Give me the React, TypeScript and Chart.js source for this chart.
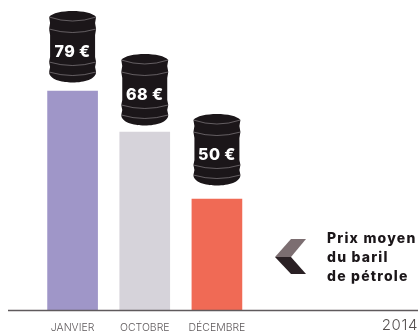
import React, { useEffect, useRef } from "react";
import { Chart, registerables } from "chart.js";

Chart.register(...registerables);

const months = ["JANVIER", "OCTOBRE", "DÉCEMBRE"];
const prices = [79, 68, 50];
const barColors = ["#9f96c8", "#d6d3da", "#f06a55"];
const captionLines = ["Prix moyen", "du baril", "de pétrole"];
const yearLabel = "2014";

const FONT = "Inter, 'Open Sans', sans-serif";
const BARREL_W = 47;
const BARREL_H = 72;
const barrelGaps = [8, 6, 13];

// Oil drum: dark body, slightly bulged sides, thin highlights for the hoops and rim.
function drawBarrel(ctx: CanvasRenderingContext2D, cx: number, top: number) {
  const hw = BARREL_W / 2;
  ctx.save();
  ctx.fillStyle = "#1b1619";
  ctx.beginPath();
  ctx.moveTo(cx - hw, top + 6);
  ctx.bezierCurveTo(cx - hw + 6, top - 2, cx + hw - 6, top - 2, cx + hw, top + 6);
  ctx.lineTo(cx + hw - 1, top + 12);
  ctx.lineTo(cx + hw, top + 18);
  ctx.lineTo(cx + hw - 1, top + 24);
  ctx.lineTo(cx + hw - 1, top + 46);
  ctx.lineTo(cx + hw, top + 51);
  ctx.lineTo(cx + hw - 1, top + 56);
  ctx.lineTo(cx + hw, top + 61);
  ctx.bezierCurveTo(cx + hw, top + 75, cx - hw, top + 75, cx - hw, top + 61);
  ctx.lineTo(cx - hw + 1, top + 56);
  ctx.lineTo(cx - hw, top + 51);
  ctx.lineTo(cx - hw + 1, top + 46);
  ctx.lineTo(cx - hw + 1, top + 24);
  ctx.lineTo(cx - hw, top + 18);
  ctx.lineTo(cx - hw + 1, top + 12);
  ctx.closePath();
  ctx.fill();

  ctx.strokeStyle = "rgba(175,170,173,0.7)";
  ctx.lineWidth = 0.7;
  const arc = (y: number, sag: number) => {
    ctx.beginPath();
    ctx.moveTo(cx - hw, y);
    ctx.quadraticCurveTo(cx, y + sag, cx + hw, y);
    ctx.stroke();
  };
  arc(top + 6, 8);
  arc(top + 18, 7);
  arc(top + 51, 7);
  arc(top + 61, 7);

  ctx.restore();
}

const overlay = {
  id: "barrelOverlay",
  afterDraw(chart: Chart) {
    const ctx = chart.ctx as any;
    const meta = chart.getDatasetMeta(0);
    const yScale = chart.scales.y;

    // Baseline running under the whole figure.
    ctx.save();
    ctx.strokeStyle = "#5f5a5c";
    ctx.lineWidth = 1.5;
    ctx.beginPath();
    ctx.moveTo(8, yScale.bottom + 0.5);
    ctx.lineTo(chart.width - 1, yScale.bottom + 0.5);
    ctx.stroke();

    meta.data.forEach((bar: any, i: number) => {
      const top = bar.y - barrelGaps[i] - BARREL_H;
      drawBarrel(ctx, bar.x, top);
      ctx.fillStyle = "#ffffff";
      ctx.font = `800 16px ${FONT}`;
      ctx.letterSpacing = "0.4px";
      ctx.textAlign = "center";
      ctx.textBaseline = "middle";
      ctx.fillText(`${prices[i]} €`, bar.x, top + 41);
    });

    // Caption chevron, two-tone.
    ctx.fillStyle = "#7c6e71";
    ctx.beginPath();
    ctx.moveTo(291, 239);
    ctx.lineTo(306, 239);
    ctx.lineTo(291, 257);
    ctx.lineTo(275, 257);
    ctx.closePath();
    ctx.fill();
    ctx.fillStyle = "#2a2024";
    ctx.beginPath();
    ctx.moveTo(275, 257);
    ctx.lineTo(291, 257);
    ctx.lineTo(306, 274);
    ctx.lineTo(291, 274);
    ctx.closePath();
    ctx.fill();

    ctx.fillStyle = "#1b1619";
    ctx.font = `800 14px ${FONT}`;
    ctx.letterSpacing = "1.2px";
    ctx.textAlign = "left";
    ctx.textBaseline = "alphabetic";
    captionLines.forEach((line, i) => ctx.fillText(line, 327, 243 + i * 19));

    ctx.fillStyle = "#55504f";
    ctx.font = `300 15px ${FONT}`;
    ctx.letterSpacing = "0.6px";
    ctx.textAlign = "right";
    ctx.fillText(yearLabel, 418, 330);
    ctx.restore();
  },
};

export default function App() {
  const ref = useRef<HTMLCanvasElement>(null);

  useEffect(() => {
    const chart = new Chart(ref.current!, {
      type: "bar",
      data: {
        labels: months,
        datasets: [
          {
            data: prices,
            backgroundColor: barColors,
            borderWidth: 0,
            barThickness: 50,
          },
        ],
      },
      options: {
        animation: false,
        responsive: false,
        layout: { padding: { left: 36.5, right: 166, top: 0, bottom: 0 } },
        plugins: { legend: { display: false }, tooltip: { enabled: false } },
        scales: {
          x: {
            grid: { display: false, drawTicks: false },
            border: { display: false },
            afterFit: (scale: any) => {
              scale.height = 22;
            },
            ticks: {
              color: "#5f5a5c",
              font: { family: FONT, size: 10.5, weight: 300 },
              padding: 12,
              maxRotation: 0,
              autoSkip: false,
            },
          },
          y: {
            display: false,
            min: 20.2,
            max: 103.44,
          },
        },
      },
      plugins: [overlay],
    });
    return () => chart.destroy();
  }, []);

  return (
    <div style={{ position: "fixed", left: 0, top: 0, width: 419, height: 332, background: "#fff" }}>
      <canvas ref={ref} width={419} height={332} style={{ display: "block" }} />
    </div>
  );
}
